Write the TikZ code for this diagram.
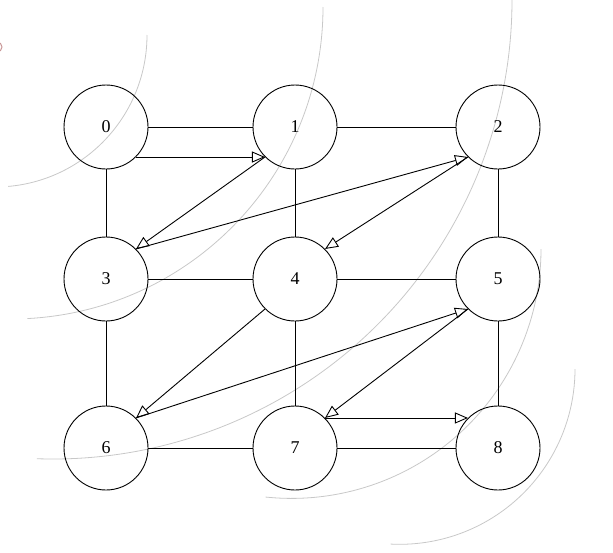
\documentclass[tikz,border=0pt]{standalone}
\usepackage{fontspec}
\setmainfont{Liberation Serif}
\usetikzlibrary{arrows.meta}
\begin{document}
\begin{tikzpicture}[x=1pt,y=-1pt,
  vert/.style={circle,draw=black,line width=0.9pt,minimum size=84pt,inner sep=0pt,font=\fontsize{18}{18}\selectfont},
  link/.style={draw=black,line width=0.9pt},
  walk/.style={draw=black,line width=0.9pt,-{Triangle[open,length=13pt,width=11pt,line width=0.9pt]}},
  ghost/.style={draw={rgb,255:red,200;green,200;blue,200},line width=0.8pt}]
\useasboundingbox (0,0) rectangle (613,552);
\clip (0,0) rectangle (613,552);
% decorative gray arcs
\draw[ghost] (147,35) arc[start angle=0,end angle=85,radius=152];
\draw[ghost] (323,7) arc[start angle=0,end angle=87,radius=312];
\draw[ghost] (512,0) arc[start angle=0,end angle=92,radius=459];
\draw[ghost] (541,249) arc[start angle=0,end angle=96,radius=249.4];
\draw[ghost] (575,369) arc[start angle=0,end angle=93,radius=175.3];
\draw[draw={rgb,255:red,200;green,150;blue,150},line width=1pt] (-3,42) arc[start angle=-90,end angle=90,radius=5];
% nodes
\node[vert] (n0) at (106,127) {0};
\node[vert] (n1) at (295,127) {1};
\node[vert] (n2) at (498,127) {2};
\node[vert] (n3) at (106,279) {3};
\node[vert] (n4) at (295,279) {4};
\node[vert] (n5) at (498,279) {5};
\node[vert] (n6) at (106,448) {6};
\node[vert] (n7) at (295,448) {7};
\node[vert] (n8) at (498,448) {8};
% grid edges
\path[link] (n0) -- (n1);
\path[link] (n1) -- (n2);
\path[link] (n3) -- (n4);
\path[link] (n4) -- (n5);
\path[link] (n6) -- (n7);
\path[link] (n7) -- (n8);
\path[link] (n0) -- (n3);
\path[link] (n1) -- (n4);
\path[link] (n2) -- (n5);
\path[link] (n3) -- (n6);
\path[link] (n4) -- (n7);
\path[link] (n5) -- (n8);
% traversal arrows
\path[walk] (n0.south east) -- (n1.south west);
\path[walk] (n1.south west) -- (n3.north east);
\path[walk] (n3.north east) -- (n2.south west);
\path[walk] (n2.south west) -- (n4.north east);
\path[walk] (n4.south west) -- (n6.north east);
\path[walk] (n6.north east) -- (n5.south west);
\path[walk] (n5.south west) -- (n7.north east);
\path[walk] (n7.north east) -- (n8.north west);
\end{tikzpicture}
\end{document}
